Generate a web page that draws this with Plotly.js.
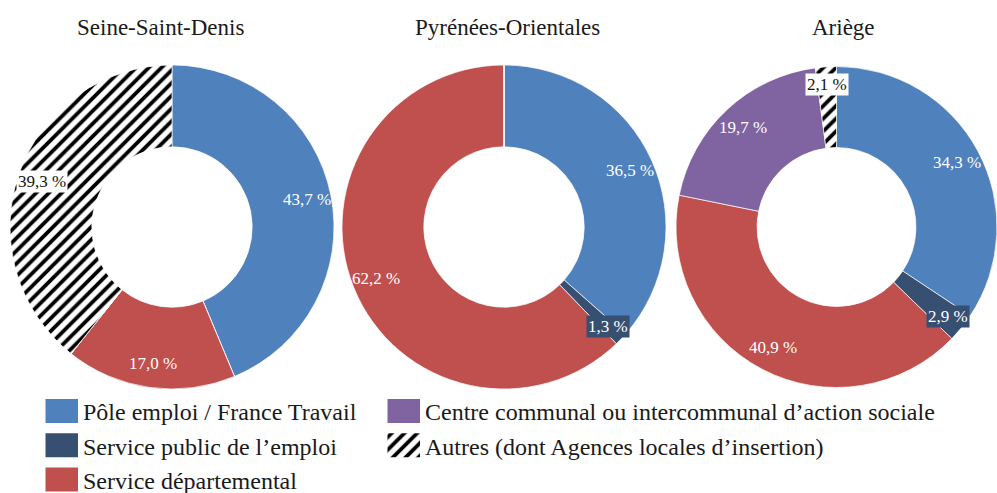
<!DOCTYPE html>
<html>
<head>
<meta charset="utf-8">
<script src="https://cdn.plot.ly/plotly-3.0.1.min.js"></script>
<style>
  html, body { margin: 0; padding: 0; background: #fff; }
  #chart { width: 997px; height: 493px; }
</style>
</head>
<body>
<div id="chart"></div>
<script>
// ---- Data ----
const categories = [
  'Pôle emploi / France Travail',
  'Service public de l’emploi',
  'Service départemental',
  'Centre communal ou intercommunal d’action sociale',
  'Autres (dont Agences locales d’insertion)'
];
const regions = ['Seine-Saint-Denis', 'Pyrénées-Orientales', 'Ariège'];
const seineSaintDenis = [43.7, 0, 17.0, 0, 39.3];
const pyreneesOrientales = [36.5, 1.3, 62.2, 0, 0];
const ariege = [34.3, 2.9, 40.9, 19.7, 2.1];
const seriesValues = [seineSaintDenis, pyreneesOrientales, ariege];

// ---- Styles ----
const W = 997, H = 493;
const colors = ['#4F81BD', '#374F70', '#C0504D', '#8064A2', '#FFFFFF'];
const patternShapes = ['', '', '', '', '/'];
const labelFontColor = ['#ffffff', '#ffffff', '#ffffff', '#ffffff', '#111111'];
const labelBg = [null, '#374F70', null, null, '#ffffff'];
const FONT = 'Liberation Serif';
const domains = [
  {x: [10 / W, 334 / W], y: [1 - 389 / H, 1 - 65 / H]},
  {x: [342 / W, 666 / W], y: [1 - 389 / H, 1 - 65 / H]},
  {x: [676 / W, 1], y: [1 - 389 / H, 1 - 65 / H]}
];
const titleX = [160, 508, 843];
const legendColumns = [[0, 1, 2], [3, 4]];
const smallThreshold = 5;

function fmt(v) { return v.toFixed(1).replace('.', ',') + ' %'; }

const pattern = {
  shape: patternShapes, fgcolor: '#000000', bgcolor: '#ffffff',
  size: 9, solidity: 0.42, fillmode: 'overlay', fgopacity: 1
};

const traces = [];
// legend-defining pies (invisible, tiny domain)
legendColumns.forEach((col, c) => {
  traces.push({
    type: 'pie',
    labels: col.map(i => categories[i]),
    values: col.map(() => 1),
    marker: {
      colors: col.map(i => colors[i]),
      line: {width: 0},
      pattern: Object.assign({}, pattern, {shape: col.map(i => patternShapes[i]), size: 9})
    },
    domain: {x: [0, 0.00001], y: [0, 0.00001]},
    textinfo: 'none', hoverinfo: 'skip', sort: false,
    legend: c === 0 ? 'legend' : 'legend2'
  });
});

seriesValues.forEach((vals, k) => {
  traces.push({
    type: 'pie',
    name: regions[k],
    labels: categories,
    values: vals,
    hole: 0.495,
    sort: false,
    direction: 'clockwise',
    rotation: 0,
    domain: domains[k],
    showlegend: false,
    marker: {colors: colors, line: {color: '#ffffff', width: 0.7}, pattern: pattern},
    textinfo: 'none',
    hovertemplate: '%{label}: %{value:.1f} %<extra>' + regions[k] + '</extra>'
  });
});

// ---- Annotations ----
const annotations = [];
regions.forEach((r, k) => {
  annotations.push({
    xref: 'paper', yref: 'paper', x: titleX[k] / W, y: 1 - 28 / H,
    text: r, showarrow: false, xanchor: 'center', yanchor: 'middle',
    font: {family: FONT, size: 23, color: '#1a1a1a'}
  });
});

seriesValues.forEach((vals, k) => {
  const d = domains[k];
  const x0 = d.x[0] * W, x1 = d.x[1] * W;
  const y0 = (1 - d.y[1]) * H, y1 = (1 - d.y[0]) * H;
  const cx = (x0 + x1) / 2, cy = (y0 + y1) / 2;
  const R = Math.min(x1 - x0, y1 - y0) / 2;
  const total = vals.reduce((a, b) => a + b, 0);
  let cum = 0;
  vals.forEach((v, i) => {
    if (v <= 0) return;
    const mid = (cum + v / 2) / total * 2 * Math.PI;
    cum += v;
    const rr = R * (v < smallThreshold ? 0.89 : 0.85);
    const px = cx + rr * Math.sin(mid);
    const py = cy - rr * Math.cos(mid);
    annotations.push({
      xref: 'paper', yref: 'paper', x: px / W, y: 1 - py / H,
      text: fmt(v), showarrow: false, xanchor: 'center', yanchor: 'middle',
      font: {family: FONT, size: 17, color: labelFontColor[i]},
      bgcolor: labelBg[i] || 'rgba(0,0,0,0)', borderpad: 1
    });
  });
});

const legendCommon = {
  orientation: 'v', xanchor: 'left', y: 1 - 389 / H, yanchor: 'top',
  font: {family: FONT, size: 24, color: '#1a1a1a'},
  tracegroupgap: 0, itemclick: false, itemdoubleclick: false,
  bgcolor: 'rgba(0,0,0,0)', borderwidth: 0
};

const layout = {
  width: W, height: H,
  margin: {l: 0, r: 0, t: 0, b: 0, autoexpand: false},
  paper_bgcolor: '#ffffff',
  showlegend: true,
  legend: Object.assign({}, legendCommon, {x: 43 / W}),
  legend2: Object.assign({}, legendCommon, {x: 385 / W}),
  annotations: annotations
};

Plotly.newPlot('chart', traces, layout, {displayModeBar: false}).then(() => {
  document.querySelectorAll('#chart path.legendpie').forEach(p => {
    p.setAttribute('d', 'M15,12H-17.5V-12H15Z');
  });
});
</script>
</body>
</html>
